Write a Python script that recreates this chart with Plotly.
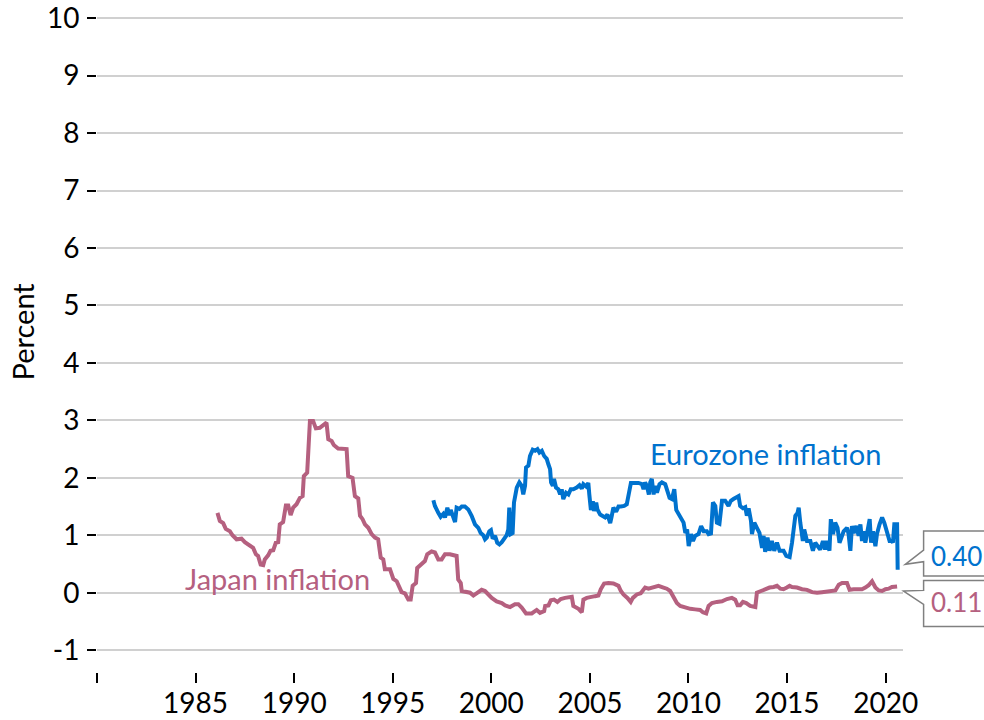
import plotly.graph_objects as go

# ---------------- data (decimal years, percent) ----------------
japan_x = [1986.11, 1986.23, 1986.40, 1986.53, 1986.74, 1986.87, 1987.08, 1987.33, 1987.50, 1987.75,
           1987.92, 1988.06, 1988.17, 1988.30, 1988.43, 1988.51, 1988.68, 1988.80, 1988.94, 1989.07,
           1989.19, 1989.27, 1989.44, 1989.58, 1989.70, 1989.82, 1989.95, 1990.12, 1990.29, 1990.43,
           1990.49, 1990.66, 1990.80, 1990.96, 1991.10, 1991.30, 1991.47, 1991.64, 1991.73, 1991.90,
           1992.01, 1992.23, 1992.66, 1992.74, 1992.96, 1993.08, 1993.25, 1993.34, 1993.47, 1993.59,
           1993.76, 1993.93, 1994.10, 1994.26, 1994.39, 1994.52, 1994.60, 1994.86, 1995.03, 1995.20,
           1995.45, 1995.62, 1995.79, 1995.91, 1996.01, 1996.18, 1996.24, 1996.47, 1996.63, 1996.75,
           1996.97, 1997.14, 1997.31, 1997.48, 1997.65, 1997.90, 1998.16, 1998.24, 1998.32, 1998.45,
           1998.50, 1998.75, 1998.92, 1999.09, 1999.29, 1999.51, 1999.68, 1999.85, 2000.02, 2000.27,
           2000.53, 2000.70, 2000.95, 2001.20, 2001.37, 2001.54, 2001.76, 2002.05, 2002.30, 2002.47,
           2002.68, 2002.73, 2002.90, 2003.02, 2003.18, 2003.35, 2003.52, 2003.74, 2004.08, 2004.16,
           2004.42, 2004.59, 2004.67, 2004.84, 2005.10, 2005.26, 2005.43, 2005.55, 2005.72, 2005.94,
           2006.19, 2006.45, 2006.57, 2006.70, 2006.90, 2007.07, 2007.18, 2007.38, 2007.58, 2007.80,
           2007.97, 2008.22, 2008.48, 2008.73, 2008.90, 2009.07, 2009.24, 2009.41, 2009.58, 2009.83,
           2010.09, 2010.34, 2010.59, 2010.73, 2010.90, 2011.02, 2011.19, 2011.44, 2011.70, 2011.95,
           2012.20, 2012.37, 2012.49, 2012.62, 2012.76, 2012.93, 2013.13, 2013.39, 2013.47, 2013.68,
           2013.89, 2014.11, 2014.32, 2014.49, 2014.66, 2014.82, 2014.99, 2015.13, 2015.25, 2015.50,
           2015.76, 2016.01, 2016.27, 2016.52, 2016.77, 2017.03, 2017.28, 2017.45, 2017.62, 2017.79,
           2018.04, 2018.17, 2018.38, 2018.63, 2018.80, 2018.97, 2019.14, 2019.31, 2019.48, 2019.65,
           2019.82, 2019.99, 2020.15, 2020.32, 2020.58]
japan_y = [1.39, 1.25, 1.21, 1.11, 1.07, 1.00, 0.93, 0.94, 0.88, 0.82,
           0.78, 0.67, 0.64, 0.49, 0.48, 0.58, 0.65, 0.73, 0.74, 0.87,
           0.88, 1.19, 1.23, 1.52, 1.52, 1.35, 1.48, 1.54, 1.65, 1.68,
           2.03, 2.09, 2.99, 2.99, 2.86, 2.87, 2.92, 2.96, 2.67, 2.64,
           2.57, 2.51, 2.50, 2.03, 2.00, 1.68, 1.64, 1.34, 1.28, 1.19,
           1.13, 1.02, 0.96, 0.93, 0.61, 0.58, 0.41, 0.41, 0.24, 0.20,
           0.01, -0.01, -0.12, -0.12, 0.12, 0.17, 0.43, 0.49, 0.55, 0.67,
           0.72, 0.70, 0.58, 0.58, 0.67, 0.67, 0.64, 0.64, 0.23, 0.17,
           0.03, 0.01, 0.00, -0.05, -0.01, 0.05, 0.03, -0.03, -0.09, -0.15,
           -0.18, -0.22, -0.25, -0.20, -0.20, -0.26, -0.36, -0.36, -0.30, -0.35,
           -0.32, -0.23, -0.22, -0.13, -0.12, -0.16, -0.11, -0.09, -0.07, -0.23,
           -0.28, -0.34, -0.12, -0.09, -0.08, -0.06, -0.05, 0.06, 0.16, 0.17,
           0.16, 0.12, 0.03, -0.03, -0.09, -0.16, -0.09, -0.03, -0.01, 0.09,
           0.07, 0.09, 0.12, 0.09, 0.07, 0.03, -0.06, -0.18, -0.23, -0.26,
           -0.28, -0.29, -0.30, -0.34, -0.36, -0.23, -0.18, -0.16, -0.15, -0.11,
           -0.09, -0.12, -0.22, -0.22, -0.16, -0.18, -0.23, -0.25, 0.00, 0.03,
           0.06, 0.09, 0.10, 0.12, 0.07, 0.06, 0.09, 0.12, 0.10, 0.09,
           0.06, 0.05, 0.01, 0.00, 0.01, 0.02, 0.03, 0.04, 0.14, 0.17,
           0.17, 0.05, 0.06, 0.06, 0.06, 0.09, 0.13, 0.20, 0.09, 0.04,
           0.03, 0.06, 0.07, 0.10, 0.11]

euro_x = [1997.06, 1997.14, 1997.31, 1997.43, 1997.56, 1997.65, 1997.77, 1997.87, 1997.94, 1998.04,
          1998.16, 1998.24, 1998.38, 1998.50, 1998.66, 1998.83, 1999.00, 1999.17, 1999.34, 1999.46,
          1999.59, 1999.68, 1999.77, 1999.90, 1999.98, 2000.07, 2000.19, 2000.30, 2000.41, 2000.53,
          2000.64, 2000.78, 2000.86, 2000.91, 2000.98, 2001.08, 2001.15, 2001.29, 2001.42, 2001.54,
          2001.62, 2001.71, 2001.76, 2001.88, 2001.96, 2002.10, 2002.22, 2002.34, 2002.44, 2002.56,
          2002.68, 2002.81, 2002.89, 2002.98, 2003.03, 2003.12, 2003.18, 2003.28, 2003.40, 2003.49,
          2003.57, 2003.65, 2003.79, 2003.91, 2004.03, 2004.16, 2004.33, 2004.47, 2004.59, 2004.67,
          2004.81, 2004.92, 2004.97, 2005.05, 2005.15, 2005.21, 2005.32, 2005.38, 2005.52, 2005.66,
          2005.77, 2005.89, 2006.03, 2006.11, 2006.19, 2006.33, 2006.45, 2006.57, 2006.74, 2006.87,
          2006.95, 2007.08, 2007.24, 2007.46, 2007.64, 2007.72, 2007.80, 2007.89, 2007.99, 2008.06,
          2008.14, 2008.23, 2008.31, 2008.40, 2008.53, 2008.65, 2008.82, 2008.90, 2009.04, 2009.16,
          2009.28, 2009.38, 2009.49, 2009.58, 2009.75, 2009.84, 2009.93, 2010.01, 2010.13, 2010.23,
          2010.34, 2010.51, 2010.64, 2010.77, 2010.93, 2011.02, 2011.14, 2011.24, 2011.36, 2011.44,
          2011.57, 2011.70, 2011.86, 2012.03, 2012.15, 2012.28, 2012.42, 2012.54, 2012.62, 2012.76,
          2012.88, 2012.96, 2013.05, 2013.17, 2013.22, 2013.34, 2013.47, 2013.60, 2013.73, 2013.81,
          2013.89, 2014.01, 2014.11, 2014.23, 2014.35, 2014.49, 2014.62, 2014.82, 2014.96, 2015.13,
          2015.25, 2015.33, 2015.42, 2015.53, 2015.59, 2015.67, 2015.80, 2015.87, 2016.01, 2016.18,
          2016.31, 2016.43, 2016.55, 2016.68, 2016.82, 2016.93, 2017.02, 2017.15, 2017.22, 2017.33,
          2017.44, 2017.56, 2017.66, 2017.79, 2017.87, 2018.04, 2018.12, 2018.21, 2018.29, 2018.38,
          2018.51, 2018.63, 2018.72, 2018.80, 2018.88, 2018.97, 2019.06, 2019.19, 2019.26, 2019.36,
          2019.48, 2019.56, 2019.69, 2019.82, 2019.93, 2020.07, 2020.20, 2020.32, 2020.37, 2020.44,
          2020.58, 2020.61]
euro_y = [1.61, 1.51, 1.39, 1.32, 1.37, 1.31, 1.48, 1.35, 1.44, 1.34,
          1.23, 1.48, 1.46, 1.50, 1.50, 1.45, 1.34, 1.19, 1.13, 1.04,
          1.00, 0.93, 0.96, 1.07, 1.09, 0.94, 0.99, 0.87, 0.84, 0.88,
          0.94, 1.00, 1.10, 1.48, 1.02, 1.04, 1.57, 1.83, 1.92, 1.86,
          1.71, 1.86, 2.18, 2.21, 2.38, 2.49, 2.47, 2.50, 2.44, 2.47,
          2.38, 2.33, 2.24, 2.15, 1.92, 1.86, 1.98, 1.83, 1.80, 1.71,
          1.80, 1.63, 1.74, 1.71, 1.80, 1.80, 1.83, 1.87, 1.81, 1.89,
          1.85, 1.91, 1.71, 1.44, 1.59, 1.42, 1.57, 1.45, 1.36, 1.34,
          1.31, 1.36, 1.21, 1.34, 1.48, 1.41, 1.50, 1.50, 1.51, 1.54,
          1.71, 1.91, 1.91, 1.91, 1.89, 1.80, 1.92, 1.86, 1.71, 1.92,
          1.98, 1.71, 1.86, 1.74, 1.89, 1.92, 1.89, 1.80, 1.65, 1.63,
          1.80, 1.44, 1.37, 1.34, 1.22, 1.04, 1.10, 0.81, 1.02, 0.90,
          0.99, 1.02, 1.16, 1.07, 1.07, 1.02, 1.03, 1.57, 1.51, 1.22,
          1.20, 1.60, 1.60, 1.51, 1.60, 1.63, 1.65, 1.68, 1.51, 1.47,
          1.49, 1.34, 1.47, 1.25, 1.02, 1.22, 1.13, 1.04, 0.78, 0.99,
          0.71, 0.96, 0.73, 0.90, 0.73, 0.87, 0.73, 0.73, 0.64, 0.62,
          0.87, 1.13, 1.34, 1.39, 1.48, 1.22, 0.90, 1.10, 0.90, 0.90,
          0.73, 0.87, 0.81, 0.75, 0.90, 0.75, 0.90, 0.73, 1.28, 1.02,
          1.22, 1.13, 0.87, 0.99, 1.07, 1.13, 1.02, 0.73, 1.16, 1.04,
          1.16, 0.99, 1.19, 0.90, 1.07, 0.87, 1.02, 1.28, 0.87, 1.07,
          0.81, 1.02, 1.19, 1.31, 1.22, 1.07, 0.90, 0.90, 0.87, 1.19,
          1.19, 0.40]

x_tick_vals = [1980, 1985, 1990, 1995, 2000, 2005, 2010, 2015, 2020]
x_tick_text = ["", "1985", "1990", "1995", "2000", "2005", "2010", "2015", "2020"]
y_tick_vals = [-1, 0, 1, 2, 3, 4, 5, 6, 7, 8, 9, 10]
y_tick_text = ["-1", "0", "1", "2", "3", "4", "5", "6", "7", "8", "9", "10"]

series_names = ["Eurozone inflation", "Japan inflation"]
last_labels = ["0.40", "0.11"]

# ---------------- styling ----------------
EURO = "#0072CE"
JAPAN = "#B5607F"
FONT = "Lato"
FS = 29

fig = go.Figure()
fig.add_trace(go.Scatter(x=japan_x, y=japan_y, mode="lines", name=series_names[1],
                         line=dict(color=JAPAN, width=4), hoverinfo="x+y"))
fig.add_trace(go.Scatter(x=euro_x, y=euro_y, mode="lines", name=series_names[0],
                         line=dict(color=EURO, width=4), hoverinfo="x+y"))

fig.update_layout(
    width=984, height=720,
    margin=dict(l=97, r=81, t=17, b=48),
    paper_bgcolor="white", plot_bgcolor="white",
    showlegend=False,
    font=dict(family=FONT, size=FS, color="#000000"),
)
fig.update_xaxes(range=[1980, 2020.88], tickvals=x_tick_vals, ticktext=x_tick_text,
                 showgrid=False, zeroline=False, showline=False, automargin=False,
                 ticks="outside", ticklen=10, tickwidth=2, tickcolor="#000000",
                 ticklabelstandoff=-4, ticklabeloverflow="allow", tickfont=dict(size=28))
fig.update_yaxes(range=[-1.38, 10.02], tickvals=y_tick_vals, ticktext=y_tick_text,
                 showgrid=True, gridcolor="#D0D0D0", gridwidth=2,
                 zeroline=False, showline=False, automargin=False,
                 ticks="outside", ticklen=9, tickwidth=2, tickcolor="#000000",
                 ticklabelstandoff=2, ticklabeloverflow="allow", tickfont=dict(size=28))

# series labels
fig.add_annotation(x=2007.95, y=2.42, xref="x", yref="y", text=series_names[0],
                   showarrow=False, xanchor="left", yanchor="middle",
                   font=dict(family=FONT, size=FS, color=EURO))
fig.add_annotation(x=1984.35, y=0.25, xref="x", yref="y", text=series_names[1],
                   showarrow=False, xanchor="left", yanchor="middle",
                   font=dict(family=FONT, size=FS, color=JAPAN))

# y title
fig.add_annotation(x=-0.093, y=0.52, xref="paper", yref="paper", text="Percent",
                   showarrow=False, textangle=-90, xanchor="center", yanchor="middle",
                   font=dict(family=FONT, size=FS, color="#000000"))

# callouts for last values
euro_last = euro_y[-1]
japan_last = japan_y[-1]
p1 = "M 2.3 5.4 L 20.6 19.7 L 20.6 38.7 L 95 38.7 L 95 -6.3 L 20.6 -6.3 L 20.6 8 Z"
p2 = "M 0.6 -4.7 L 20.6 -4 L 20.6 6 L 95 6 L 95 -40 L 20.6 -40 L 20.6 -18 Z"
for val, path in [(euro_last, p1), (japan_last, p2)]:
    fig.add_shape(type="path", xref="paper", yref="y", xsizemode="pixel", ysizemode="pixel",
                  xanchor=1, yanchor=val, path=path,
                  line=dict(color="#808080", width=1.5), fillcolor="white", layer="above")

fig.add_annotation(x=1.0327, y=euro_last, yshift=14, xref="paper", yref="y", text=last_labels[0],
                   showarrow=False, xanchor="left", yanchor="middle",
                   font=dict(family=FONT, size=26, color=EURO))
fig.add_annotation(x=1.0327, y=japan_last, yshift=-16, xref="paper", yref="y", text=last_labels[1],
                   showarrow=False, xanchor="left", yanchor="middle",
                   font=dict(family=FONT, size=26, color=JAPAN))

fig.write_html("out.html", config={"displayModeBar": False},
               post_script="document.body.style.margin='0';")
